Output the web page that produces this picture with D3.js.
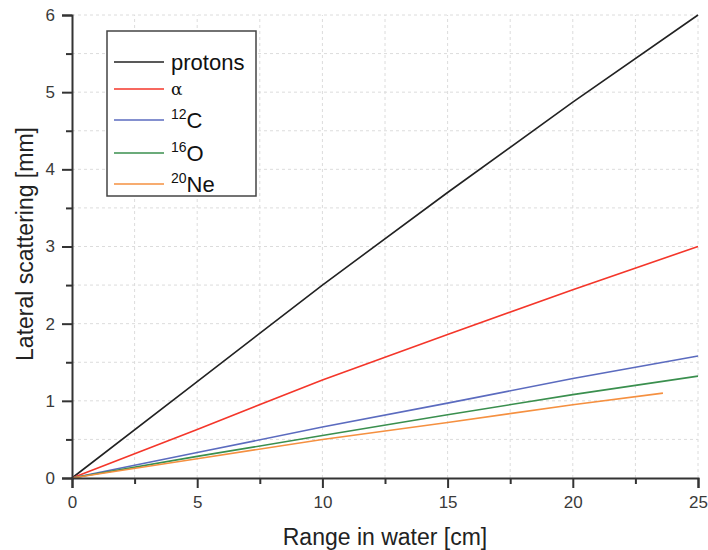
<!DOCTYPE html>
<meta charset="utf-8">
<script src="https://d3js.org/d3.v7.min.js"></script>
<style>
  body { margin: 0; background: #fff; }
  text { font-family: "Liberation Sans", Arial, sans-serif; }
</style>
<div id="chart"></div>
<script>
// values
var rangeCm = [0, 5, 10, 15, 20, 25]
var protons = [0, 1.25, 2.5, 3.7, 4.87, 6.0]
var alpha = [0, 0.63, 1.27, 1.86, 2.44, 3.0]
var carbon = [0, 0.33, 0.66, 0.97, 1.29, 1.58]
var oxygen = [0, 0.28, 0.55, 0.82, 1.08, 1.32]
var neonRange = [0, 5, 10, 15, 20, 23.6]
var neon = [0, 0.25, 0.5, 0.72, 0.95, 1.10]

var seriesNames = ["protons", "α", "12C", "16O", "20Ne"]
var seriesColors = ["#222222", "#f4362a", "#5b6bbf", "#3a8f4e", "#f59040"]

var width = 708, height = 550
var margin = {top: 15, right: 10, bottom: 72, left: 72}

var x = d3.scaleLinear().domain([0, 25]).range([margin.left, 698])
var y = d3.scaleLinear().domain([0, 6]).range([478, 15])

var svg = d3.select("#chart").append("svg")
  .attr("width", width)
  .attr("height", height)

// dashed grid at every major and minor tick
var xGrid = d3.range(2.5, 25.01, 2.5)
var yGrid = d3.range(0.5, 6.01, 0.5)
svg.append("g").selectAll("line").data(xGrid).enter().append("line")
  .attr("x1", d => x(d)).attr("x2", d => x(d))
  .attr("y1", y(0)).attr("y2", y(6))
  .attr("stroke", "#dcdcdc").attr("stroke-dasharray", "3,3")
svg.append("g").selectAll("line").data(yGrid).enter().append("line")
  .attr("x1", x(0)).attr("x2", x(25))
  .attr("y1", d => y(d)).attr("y2", d => y(d))
  .attr("stroke", "#dcdcdc").attr("stroke-dasharray", "3,3")

// lines
var allSeries = [
  {xs: rangeCm, ys: protons},
  {xs: rangeCm, ys: alpha},
  {xs: rangeCm, ys: carbon},
  {xs: rangeCm, ys: oxygen},
  {xs: neonRange, ys: neon}
]
var line = d3.line().x(d => x(d[0])).y(d => y(d[1]))
allSeries.forEach(function(s, i) {
  svg.append("path")
    .datum(s.xs.map((v, j) => [v, s.ys[j]]))
    .attr("d", line)
    .attr("fill", "none")
    .attr("stroke", seriesColors[i])
    .attr("stroke-width", 1.6)
})

// axes
var xAxis = svg.append("g").attr("transform", "translate(0," + y(0) + ")")
  .call(d3.axisBottom(x).tickValues([0, 5, 10, 15, 20, 25]).tickSize(10).tickPadding(8))
var xMinor = svg.append("g").attr("transform", "translate(0," + y(0) + ")")
  .call(d3.axisBottom(x).tickValues([2.5, 7.5, 12.5, 17.5, 22.5]).tickSize(6).tickFormat(""))
var yAxis = svg.append("g").attr("transform", "translate(" + x(0) + ",0)")
  .call(d3.axisLeft(y).tickValues([0, 1, 2, 3, 4, 5, 6]).tickFormat(d3.format("d")).tickSize(10).tickPadding(7))
var yMinor = svg.append("g").attr("transform", "translate(" + x(0) + ",0)")
  .call(d3.axisLeft(y).tickValues([0.5, 1.5, 2.5, 3.5, 4.5, 5.5]).tickSize(6).tickFormat(""))

;[xAxis, xMinor, yAxis, yMinor].forEach(function(g) {
  g.select(".domain").attr("stroke", "#333").attr("stroke-width", 2)
  g.selectAll(".tick line").attr("stroke", "#333").attr("stroke-width", 2)
  g.selectAll(".tick text").attr("fill", "#3a3a3a").style("font-size", "17px")
})
xMinor.select(".domain").remove()
yMinor.select(".domain").remove()

// axis titles
svg.append("text")
  .attr("x", 385).attr("y", 545)
  .attr("text-anchor", "middle")
  .style("font-size", "23px").attr("fill", "#222")
  .text("Range in water [cm]")
svg.append("text")
  .attr("transform", "translate(33,244) rotate(-90)")
  .attr("text-anchor", "middle")
  .style("font-size", "23px").attr("fill", "#222")
  .text("Lateral scattering [mm]")

// legend
svg.append("rect")
  .attr("x", 107).attr("y", 31).attr("width", 149).attr("height", 165)
  .attr("fill", "white").attr("stroke", "#444").attr("stroke-width", 1.5)
var legY = [62, 89, 120, 153, 184]
seriesNames.forEach(function(name, i) {
  svg.append("line")
    .attr("x1", 114).attr("x2", 164)
    .attr("y1", legY[i]).attr("y2", legY[i])
    .attr("stroke", seriesColors[i]).attr("stroke-width", 1.6)
  var t = svg.append("text")
    .attr("x", 171).attr("y", legY[i] + 8)
    .attr("fill", "#111")
    .style("font-size", "22px")
  var m = name.match(/^(\d+)(.*)$/)
  if (m) {
    t.append("tspan").attr("dy", -9).style("font-size", "14px").text(m[1])
    t.append("tspan").attr("dy", 9).text(m[2])
  } else if (name === "α") {
    t.style("font-family", "'DejaVu Serif', serif").style("font-size", "17px")
      .attr("y", legY[i] + 6).text(name)
  } else {
    t.text(name)
  }
})
</script>
